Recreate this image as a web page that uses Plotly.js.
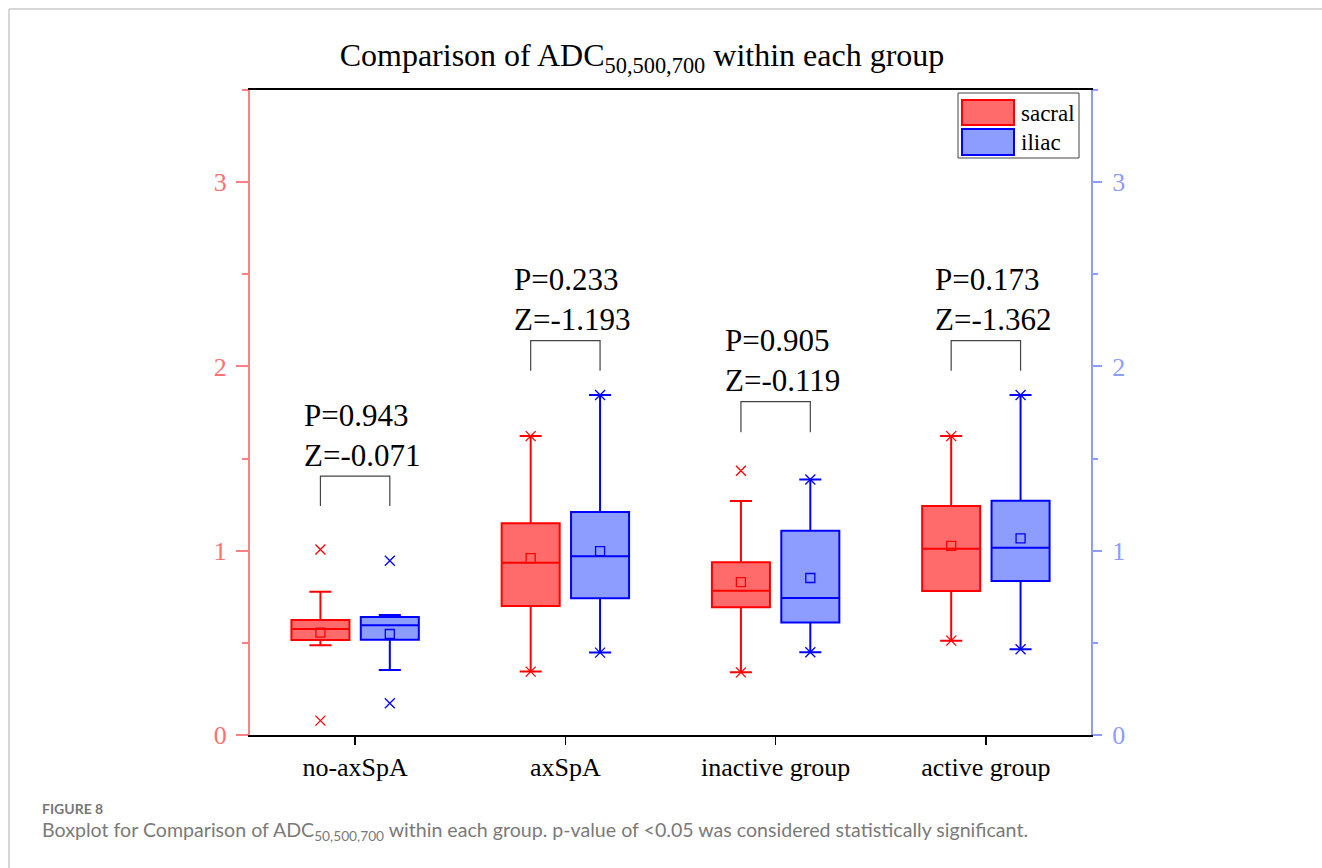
<!DOCTYPE html>
<html>
<head>
<meta charset="utf-8">
<script src="https://cdn.plot.ly/plotly-3.0.1.min.js"></script>
<style>html,body{margin:0;padding:0;background:#fff;}#chart{width:1322px;height:868px;}</style>
</head>
<body>
<div id="chart"></div>
<script>
// ---- data ----
const categories = ["no-axSpA", "axSpA", "inactive group", "active group"];

const sacralQ1     = [0.515, 0.700, 0.693, 0.781];
const sacralMedian = [0.575, 0.935, 0.783, 1.011];
const sacralQ3     = [0.624, 1.149, 0.937, 1.243];
const sacralLower  = [0.487, 0.344, 0.340, 0.512];
const sacralUpper  = [0.778, 1.622, 1.270, 1.622];
const sacralMean   = [0.555, 0.960, 0.830, 1.026];
const sacralMax    = [1.007, 1.622, 1.434, 1.622];
const sacralMin    = [0.078, 0.344, 0.340, 0.512];

const iliacQ1      = [0.517, 0.742, 0.611, 0.836];
const iliacMedian  = [0.595, 0.970, 0.743, 1.016];
const iliacQ3      = [0.640, 1.210, 1.109, 1.271];
const iliacLower   = [0.353, 0.447, 0.449, 0.465];
const iliacUpper   = [0.651, 1.845, 1.386, 1.845];
const iliacMean    = [0.548, 0.998, 0.852, 1.067];
const iliacMax     = [0.946, 1.845, 1.386, 1.845];
const iliacMin     = [0.172, 0.447, 0.449, 0.465];

const pValues      = ["0.943", "0.233", "0.905", "0.173"];
const zValues      = ["-0.071", "-1.193", "-0.119", "-1.362"];
const bracketTop   = [1.405, 2.140, 1.809, 2.140];
const bracketFoot  = [1.243, 1.977, 1.643, 1.977];

// ---- layout constants ----
const W = 1322, H = 868;
const L = 250, R = 1091, T = 90, B = 735;
const px = x => (x - L) / (R - L);
const py = y => (B - y) / (B - T);
const OFF = 0.165, BOXW = 0.276;
const idx = categories.map((c, i) => i);
const xs = idx.map(i => i - OFF);
const xi = idx.map(i => i + OFF);

const RED = "#ff0000", REDFILL = "#ff6b6b";
const BLUE = "#0000ff", BLUEFILL = "#8c9cff";
const SERIF = "Liberation Serif, Times New Roman, serif";

function boxTrace(name, x, q1, med, q3, lo, hi, line, fill, yaxis) {
  return {
    type: "box", name: name, x: x, q1: q1, median: med, q3: q3,
    lowerfence: lo, upperfence: hi, width: BOXW, whiskerwidth: 0.38,
    line: {color: line, width: 2}, fillcolor: fill, boxpoints: false,
    yaxis: yaxis, showlegend: false, hoverinfo: "y"
  };
}
function markTrace(x, y, symbol, color, size, yaxis) {
  return {
    type: "scatter", mode: "markers", x: x, y: y, yaxis: yaxis,
    marker: {symbol: symbol, size: size, color: color, line: {color: color, width: 1.3}},
    showlegend: false, hoverinfo: "y"
  };
}

const traces = [
  boxTrace("sacral", xs, sacralQ1, sacralMedian, sacralQ3, sacralLower, sacralUpper, RED, REDFILL, "y"),
  boxTrace("iliac", xi, iliacQ1, iliacMedian, iliacQ3, iliacLower, iliacUpper, BLUE, BLUEFILL, "y2"),
  markTrace(xs, sacralMean, "square-open", RED, 9, "y"),
  markTrace(xi, iliacMean, "square-open", BLUE, 9, "y2"),
  markTrace(xs.concat(xs), sacralMax.concat(sacralMin), "x-thin-open", RED, 10, "y"),
  markTrace(xi.concat(xi), iliacMax.concat(iliacMin), "x-thin-open", BLUE, 10, "y2")
];

const shapes = [];
const annotations = [];
idx.forEach(i => {
  shapes.push({
    type: "path", xref: "x", yref: "y",
    path: `M ${xs[i]},${bracketFoot[i]} L ${xs[i]},${bracketTop[i]} L ${xi[i]},${bracketTop[i]} L ${xi[i]},${bracketFoot[i]}`,
    line: {color: "#444444", width: 1.2}
  });
  annotations.push({
    x: i - 0.252, y: bracketTop[i] + 0.114, xref: "x", yref: "y", xanchor: "left", yanchor: "middle",
    text: "Z=" + zValues[i], showarrow: false, font: {family: SERIF, size: 31, color: "#000"}
  });
  annotations.push({
    x: i - 0.252, y: bracketTop[i] + 0.331, xref: "x", yref: "y", xanchor: "left", yanchor: "middle",
    text: "P=" + pValues[i], showarrow: false, font: {family: SERIF, size: 31, color: "#000"}
  });
});

// custom legend
shapes.push({type: "rect", xref: "paper", yref: "paper", x0: px(958), x1: px(1079), y0: py(158), y1: py(93),
  line: {color: "#444", width: 1}, fillcolor: "#fff", layer: "above"});
shapes.push({type: "rect", xref: "paper", yref: "paper", x0: px(962), x1: px(1014), y0: py(125), y1: py(100),
  line: {color: RED, width: 2}, fillcolor: REDFILL, layer: "above"});
shapes.push({type: "rect", xref: "paper", yref: "paper", x0: px(962), x1: px(1014), y0: py(155), y1: py(129),
  line: {color: BLUE, width: 2}, fillcolor: BLUEFILL, layer: "above"});
annotations.push({x: px(1019), y: py(113), xref: "paper", yref: "paper", xanchor: "left", yanchor: "middle",
  text: "sacral", showarrow: false, font: {family: SERIF, size: 23, color: "#000"}});
annotations.push({x: px(1019), y: py(142), xref: "paper", yref: "paper", xanchor: "left", yanchor: "middle",
  text: "iliac", showarrow: false, font: {family: SERIF, size: 23, color: "#000"}});

// page frame
shapes.push({type: "line", xref: "paper", yref: "paper", x0: px(9), x1: px(1322), y0: py(9), y1: py(9),
  line: {color: "#c8c8c8", width: 1.5}});
shapes.push({type: "line", xref: "paper", yref: "paper", x0: px(9), x1: px(9), y0: py(9), y1: py(868),
  line: {color: "#c8c8c8", width: 1.5}});

// caption
annotations.push({x: px(40), y: py(808), xref: "paper", yref: "paper", xanchor: "left", yanchor: "middle",
  text: "<b>FIGURE 8</b>", showarrow: false, font: {family: "Lato, Open Sans, sans-serif", size: 14, color: "#777"}});
annotations.push({x: px(40), y: py(831), xref: "paper", yref: "paper", xanchor: "left", yanchor: "middle",
  text: "Boxplot for Comparison of ADC<sub>50,500,700</sub> within each group. p-value of &lt;0.05 was considered statistically significant.",
  showarrow: false, font: {family: "Lato, Open Sans, sans-serif", size: 19.6, color: "#7a7a7a"}});

const layout = {
  width: W, height: H,
  margin: {l: L, r: W - R, t: T, b: H - B, pad: 0},
  paper_bgcolor: "#fff", plot_bgcolor: "#fff",
  showlegend: false,
  title: {
    text: "Comparison of ADC<sub>50,500,700</sub> within each group",
    font: {family: SERIF, size: 32, color: "#000"},
    x: 642 / W, xref: "container", xanchor: "center",
    y: 1 - 55 / H, yref: "container", yanchor: "middle"
  },
  xaxis: {
    type: "linear", range: [-0.5, 3.5], tickvals: idx, ticktext: categories,
    showline: true, linecolor: "#000", linewidth: 2, mirror: true,
    ticks: "outside", ticklen: 8, tickwidth: 1.5, tickcolor: "#000",
    showgrid: false, zeroline: false,
    tickfont: {family: SERIF, size: 26, color: "#000"}
  },
  yaxis: {
    range: [0, 3.5], tickvals: [0, 1, 2, 3],
    showline: true, linecolor: "#ff8080", linewidth: 2,
    ticks: "outside", ticklen: 12, tickwidth: 2, tickcolor: "#ff8080",
    minor: {ticks: "outside", ticklen: 6, tickwidth: 2, tickcolor: "#ff8080", tickvals: [0.5, 1.5, 2.5, 3.5]},
    showgrid: false, zeroline: false, ticklabelstandoff: 4,
    tickfont: {family: SERIF, size: 26, color: "#ff7070"}
  },
  yaxis2: {
    range: [0, 3.5], tickvals: [0, 1, 2, 3], overlaying: "y", side: "right", anchor: "x",
    showline: true, linecolor: "#8c9cff", linewidth: 2,
    ticks: "outside", ticklen: 9, tickwidth: 2, tickcolor: "#8c9cff",
    minor: {ticks: "outside", ticklen: 5, tickwidth: 2, tickcolor: "#8c9cff", tickvals: [0.5, 1.5, 2.5, 3.5]},
    showgrid: false, zeroline: false, ticklabelstandoff: 5,
    tickfont: {family: SERIF, size: 26, color: "#8c9cff"}
  },
  shapes: shapes,
  annotations: annotations
};

Plotly.newPlot("chart", traces, layout, {displayModeBar: false, staticPlot: true});
</script>
</body>
</html>
